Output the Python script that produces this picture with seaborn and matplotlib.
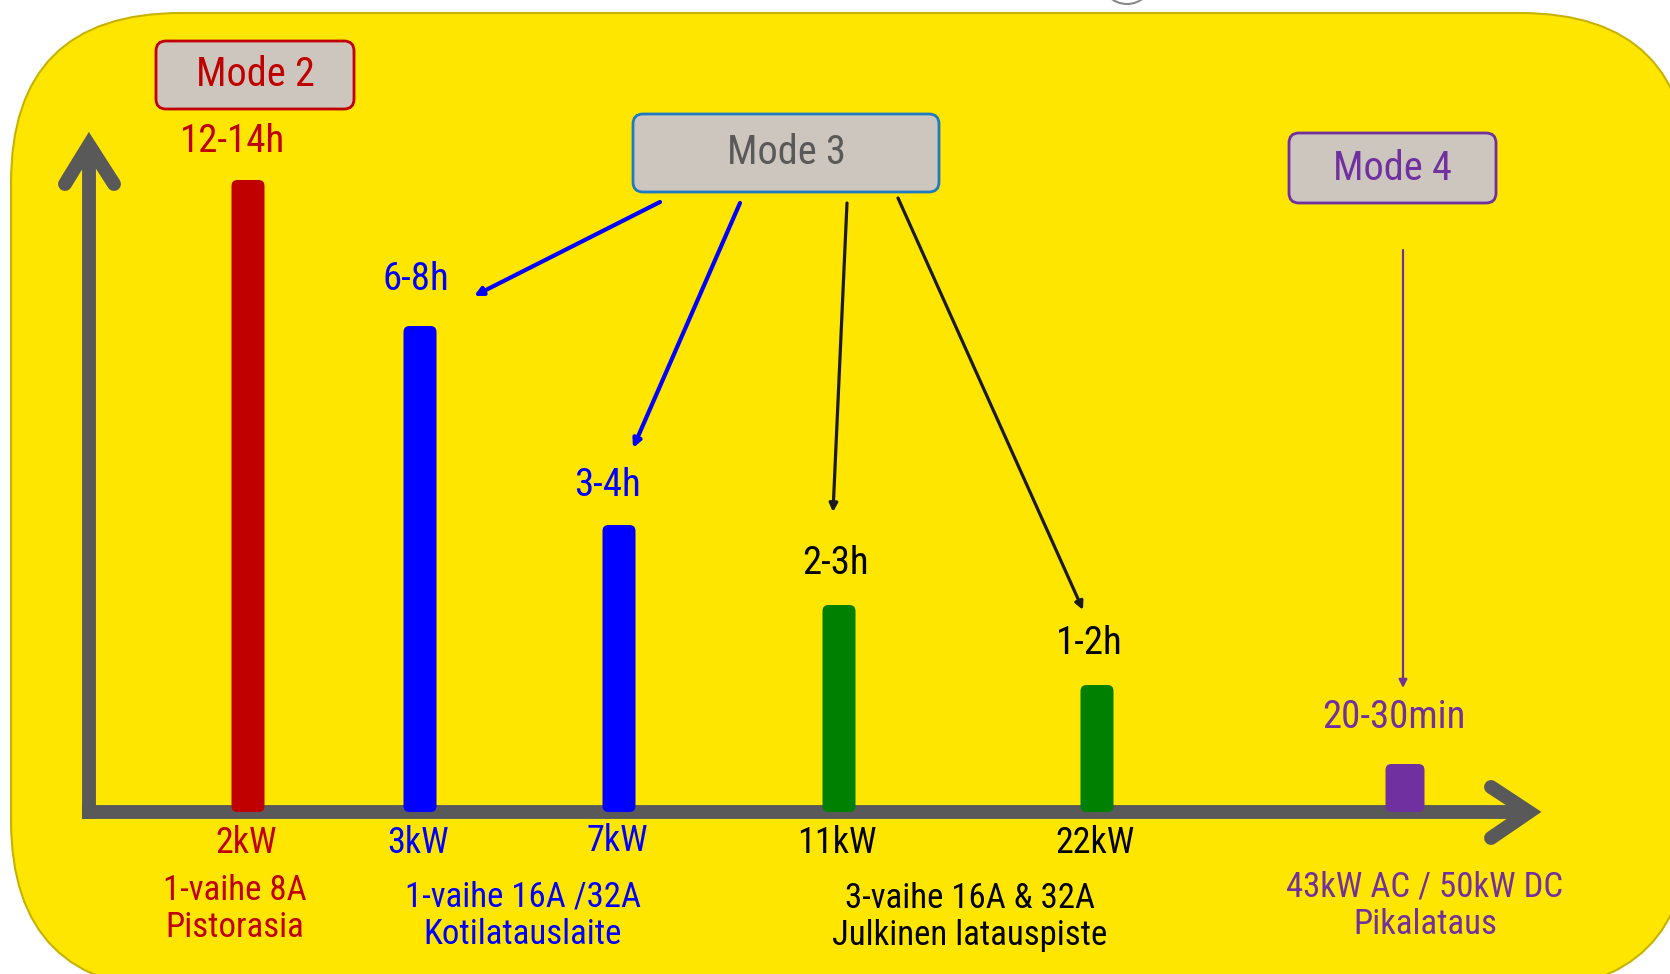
"""EV charging modes: charging power vs. charging time (Mode 2 / 3 / 4)."""

import matplotlib

matplotlib.use("Agg")
import matplotlib.pyplot as plt
import pandas as pd
import seaborn as sns
from matplotlib.patches import Circle, FancyBboxPatch

# --- data ---
power_labels = ["2kW", "3kW", "7kW", "11kW", "22kW", "43kW"]
charge_times = ["12-14h", "6-8h", "3-4h", "2-3h", "1-2h", "20-30min"]
bar_lengths = [632, 486, 287, 207, 127, 48]  # schematic length above the axis
bar_colors = ["#C00000", "#0000FF", "#0000FF", "#008000", "#008000", "#7030A0"]
time_colors = ["#C00000", "#0000FF", "#0000FF", "black", "black", "#7030A0"]
power_label_colors = ["#C00000", "#0000FF", "#0000FF", "black", "black"]

group_labels = [
    "1-vaihe 8A\nPistorasia",
    "1-vaihe 16A /32A\nKotilatauslaite",
    "3-vaihe 16A & 32A\nJulkinen latauspiste",
    "43kW AC / 50kW DC\nPikalataus",
]
group_colors = ["#C00000", "#0000FF", "black", "#7030A0"]

mode_labels = ["Mode 2", "Mode 3", "Mode 4"]
mode_edge_colors = ["#C00000", "#1F7BC1", "#7030A0"]
mode_text_colors = ["#C00000", "#595959", "#7030A0"]

# --- layout in figure pixels (y from the top) ---
W, H = 1670, 974
BASE = 812
GRAY = "#595959"
YELLOW = "#FFE600"
BOX_FILL = "#CDC6BE"
bar_x = [248, 420, 619, 839, 1097, 1405]
bar_w = [33, 33, 33, 33, 33, 39]
time_xy = [(233, 142), (416, 279), (608, 485), (836, 564), (1089, 643), (1394, 718)]
power_label_y = [843, 843, 841, 843, 843]
group_xy = [(235, 909), (523, 916), (970, 917), (1425, 906)]
mode_boxes = [(156, 41, 198, 68), (633, 114, 306, 78), (1289, 133, 207, 70)]
mode_arrows = [
    ((660, 202), (474, 296), "#0000FF", 3.0),
    ((740, 203), (633, 448), "#0000FF", 3.0),
    ((847, 203), (833, 512), "#1A1A1A", 2.3),
    ((898, 198), (1083, 610), "#1A1A1A", 2.3),
    ((1403, 250), (1403, 688), "#7030A0", 1.6),
]


def Y(py):
    return BASE - py


sns.set_style("white")
plt.rcParams["font.family"] = ["Roboto Condensed", "DejaVu Sans"]

fig = plt.figure(figsize=(W / 100, H / 100), dpi=100, facecolor="white")
ax = fig.add_axes([0, 0, 1, 1])

df = pd.DataFrame({"x": bar_x, "length": bar_lengths, "power": power_labels})
sns.barplot(
    data=df, x="x", y="length", hue="power",
    palette=dict(zip(power_labels, bar_colors)), saturation=1,
    native_scale=True, dodge=False, legend=False, width=0.19,
    errorbar=None, ax=ax,
)

# swap the plain bars for rounded ones
bars = sorted(ax.patches, key=lambda p: p.get_x())
for p, w in zip(bars, bar_w):
    cx = p.get_x() + p.get_width() / 2
    h = p.get_height()
    fc = p.get_facecolor()
    p.remove()
    ax.add_patch(FancyBboxPatch(
        (cx - w / 2, 0), w, h, boxstyle="round,pad=0,rounding_size=6",
        fc=fc, ec="none", zorder=4,
    ))

ax.set_xlim(0, W)
ax.set_ylim(Y(H), Y(0))
ax.axis("off")

# yellow rounded panel
ax.add_patch(FancyBboxPatch(
    (11, Y(990)), 1690 - 11, 990 - 13, boxstyle="round,pad=0,rounding_size=170",
    fc=YELLOW, ec="#C8B200", lw=1.5, zorder=0,
))
ax.add_patch(Circle((1127, Y(-22)), 26, fc="white", ec="#8A8A8A", lw=1.5, zorder=1))

# axis arrows
ax.plot([89, 89], [Y(819), Y(150)], color=GRAY, lw=10, solid_capstyle="butt", zorder=2)
ax.plot([65, 89, 114], [Y(184), Y(145), Y(184)], color=GRAY, lw=10,
        solid_capstyle="round", solid_joinstyle="miter", zorder=2)
ax.plot([82, 1525], [0, 0], color=GRAY, lw=10, solid_capstyle="butt", zorder=2)
ax.plot([1491, 1529, 1491], [Y(787), Y(812), Y(838)], color=GRAY, lw=10,
        solid_capstyle="round", solid_joinstyle="miter", zorder=2)

# charge time above each bar
for (x, py), s, c in zip(time_xy, charge_times, time_colors):
    ax.text(x, Y(py), s, ha="center", va="center", fontsize=28, color=c, zorder=5)

# power below the axis
for x, py, s, c in zip(bar_x, power_label_y, power_labels, power_label_colors):
    ax.text(x - 2, Y(py), s, ha="center", va="center", fontsize=26, color=c, zorder=5)

for (x, py), s, c in zip(group_xy, group_labels, group_colors):
    ax.text(x, Y(py), s, ha="center", va="center", fontsize=25, color=c,
            linespacing=1.18, zorder=5)

# mode boxes
for (x, y, w, h), s, ec, tc in zip(mode_boxes, mode_labels, mode_edge_colors, mode_text_colors):
    ax.add_patch(FancyBboxPatch(
        (x, Y(y + h)), w, h, boxstyle="round,pad=0,rounding_size=10",
        fc=BOX_FILL, ec=ec, lw=2, zorder=3,
    ))
    ax.text(x + w / 2, Y(y + h / 2), s, ha="center", va="center",
            fontsize=29, color=tc, zorder=5)

for (x0, y0), (x1, y1), c, lw in mode_arrows:
    ax.annotate(
        "", xy=(x1, Y(y1)), xytext=(x0, Y(y0)),
        arrowprops=dict(arrowstyle="-|>", color=c, lw=lw, mutation_scale=12,
                        shrinkA=0, shrinkB=0),
        zorder=3,
    )

fig.savefig("out.png", dpi=100, facecolor="white")
plt.close(fig)
